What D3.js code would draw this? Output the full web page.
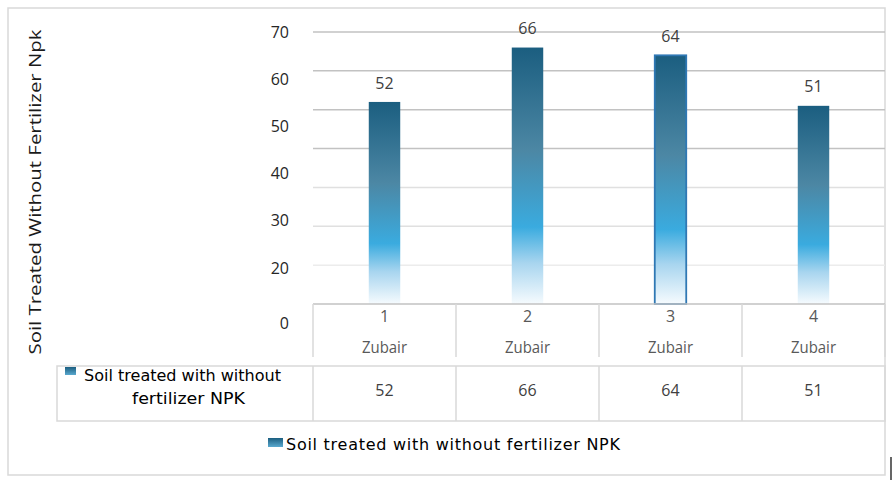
<!DOCTYPE html>
<html><head><meta charset="utf-8">
<script src="https://cdn.jsdelivr.net/npm/d3@7"></script>
<style>body{margin:0;background:#fff}svg{display:block}</style>
</head><body>
<svg id="c" width="895" height="485"></svg>
<script>
const categories = ["1","2","3","4"];
const groupLabel = ["Zubair","Zubair","Zubair","Zubair"];
const values = [52, 66, 64, 51];
const seriesName = "Soil treated with without fertilizer NPK";
const gridValues = [0,10,20,30,40,50,60,70];
const tickLabels = [70,60,50,40,30,20,0];
const axisTitle = "Soil Treated Without Fertilizer Npk";

const svg = d3.select("#c");
const plot = {l:313, r:885, t:32, b:304};

// outer border
svg.append("rect").attr("x",8).attr("y",8).attr("width",877).attr("height",467)
  .attr("fill","#fff").attr("stroke","#d9d9d9").attr("stroke-width",1.5);

const x = d3.scaleBand().domain(categories).range([plot.l, plot.r]);
const y = d3.scaleLinear().domain([0,70]).range([plot.b, plot.t]);
// tick labels sit on their own (irregular) positions in the reference
const yLab = d3.scaleLinear().domain([0,20,70]).range([323,268,32]);

const defs = svg.append("defs");
const g = defs.append("linearGradient").attr("id","bg").attr("x1",0).attr("y1",0).attr("x2",0).attr("y2",1);
[[0,"#1b5e80"],[0.4,"#4c87a4"],[0.7,"#3aabdf"],[0.84,"#a8d5ef"],[1,"#f6fbfe"]]
  .forEach(([o,c])=>g.append("stop").attr("offset",o).attr("stop-color",c));
const lg = defs.append("linearGradient").attr("id","lg").attr("x1",0).attr("y1",0).attr("x2",0).attr("y2",1);
[[0,"#1b5e80"],[1,"#5aa9cf"]].forEach(([o,c])=>lg.append("stop").attr("offset",o).attr("stop-color",c));

// gridlines
svg.append("g").selectAll("line").data(gridValues.filter(v=>v>0)).join("line")
  .attr("x1",plot.l).attr("x2",plot.r).attr("y1",d=>y(d)).attr("y2",d=>y(d))
  .attr("stroke",d=>d>=40?"#c2c2c2":(d>=20?"#e0e0e0":"#ececec")).attr("stroke-width",1.5);

// y tick labels
svg.append("g").selectAll("text").data(tickLabels).join("text")
  .attr("x",289).attr("y",d=>yLab(d)).attr("dy","0.35em").attr("text-anchor","end")
  .attr("font-family","Open Sans, sans-serif").attr("font-size",16).attr("fill","#262626")
  .text(d=>d);

// axis title
svg.append("text").attr("transform","translate(41,192) rotate(-90)")
  .attr("text-anchor","middle").attr("font-family","Open Sans, sans-serif").attr("font-size",17)
  .attr("fill","#1a1a1a").attr("textLength",325).attr("lengthAdjust","spacingAndGlyphs").text(axisTitle);

// bars
const bw = x.bandwidth()*0.22;
svg.append("g").selectAll("rect").data(values).join("rect")
  .attr("x",(d,i)=>x(categories[i])+x.bandwidth()/2-bw/2)
  .attr("y",d=>y(d)).attr("width",bw).attr("height",d=>y(0)-y(d))
  .attr("fill","url(#bg)")
  .attr("stroke",(d,i)=>i===2?"#2f78b4":"none").attr("stroke-width",1.8);

// data labels
svg.append("g").selectAll("text").data(values).join("text")
  .attr("x",(d,i)=>x(categories[i])+x.bandwidth()/2).attr("y",d=>y(d)-19).attr("dy","0.35em")
  .attr("text-anchor","middle").attr("font-family","Open Sans, sans-serif").attr("font-size",16)
  .attr("fill","#404040").text(d=>d);

// baseline
svg.append("line").attr("x1",plot.l).attr("x2",plot.r).attr("y1",y(0)).attr("y2",y(0))
  .attr("stroke","#c2c2c2").attr("stroke-width",1.5);

// category cells
const cellBottom = 357;
svg.append("g").selectAll("line").data(categories.concat(["end"])).join("line")
  .attr("x1",(d,i)=>i<categories.length?x(d):plot.r).attr("x2",(d,i)=>i<categories.length?x(d):plot.r)
  .attr("y1",y(0)).attr("y2",cellBottom).attr("stroke","#d9d9d9").attr("stroke-width",1.5);
svg.append("g").selectAll("text").data(categories).join("text")
  .attr("x",d=>x(d)+x.bandwidth()/2).attr("y",316).attr("dy","0.35em").attr("text-anchor","middle")
  .attr("font-family","Open Sans, sans-serif").attr("font-size",16).attr("fill","#595959").text(d=>d);
svg.append("g").selectAll("text").data(groupLabel).join("text")
  .attr("x",(d,i)=>x(categories[i])+x.bandwidth()/2).attr("y",347).attr("dy","0.35em").attr("text-anchor","middle")
  .attr("font-family","Open Sans, sans-serif").attr("font-size",16).attr("fill","#595959")
  .attr("textLength",45).attr("lengthAdjust","spacingAndGlyphs").text(d=>d);

// data table row
const rowT = 366, rowB = 421;
svg.append("rect").attr("x",57).attr("y",rowT).attr("width",plot.r-57).attr("height",rowB-rowT)
  .attr("fill","none").attr("stroke","#d9d9d9").attr("stroke-width",1.5);
svg.append("g").selectAll("line").data(categories).join("line")
  .attr("x1",d=>x(d)).attr("x2",d=>x(d)).attr("y1",rowT).attr("y2",rowB)
  .attr("stroke","#d9d9d9").attr("stroke-width",1.5);
svg.append("g").selectAll("text").data(values).join("text")
  .attr("x",(d,i)=>x(categories[i])+x.bandwidth()/2).attr("y",390).attr("dy","0.35em").attr("text-anchor","middle")
  .attr("font-family","Open Sans, sans-serif").attr("font-size",16).attr("fill","#404040").text(d=>d);
svg.append("rect").attr("x",65).attr("y",367).attr("width",11).attr("height",8).attr("fill","url(#lg)");
svg.append("text").attr("x",84).attr("y",375).attr("dy","0.35em")
  .attr("font-family","DejaVu Sans, sans-serif").attr("font-size",16).attr("fill","#000")
  .attr("textLength",197).attr("lengthAdjust","spacingAndGlyphs").text("Soil treated with without");
svg.append("text").attr("x",132).attr("y",398).attr("dy","0.35em")
  .attr("font-family","DejaVu Sans, sans-serif").attr("font-size",16).attr("fill","#000")
  .attr("textLength",113).attr("lengthAdjust","spacingAndGlyphs").text("fertilizer NPK");

// legend
svg.append("rect").attr("x",268).attr("y",438).attr("width",15).attr("height",9).attr("fill","url(#lg)");
svg.append("text").attr("x",286).attr("y",444).attr("dy","0.35em")
  .attr("font-family","DejaVu Sans, sans-serif").attr("font-size",16).attr("fill","#000")
  .attr("textLength",334).attr("lengthAdjust","spacing").text(seriesName);

// cursor artifact
svg.append("line").attr("x1",891).attr("x2",891).attr("y1",457).attr("y2",480).attr("stroke","#000").attr("stroke-width",1.2);
</script>
</body></html>
